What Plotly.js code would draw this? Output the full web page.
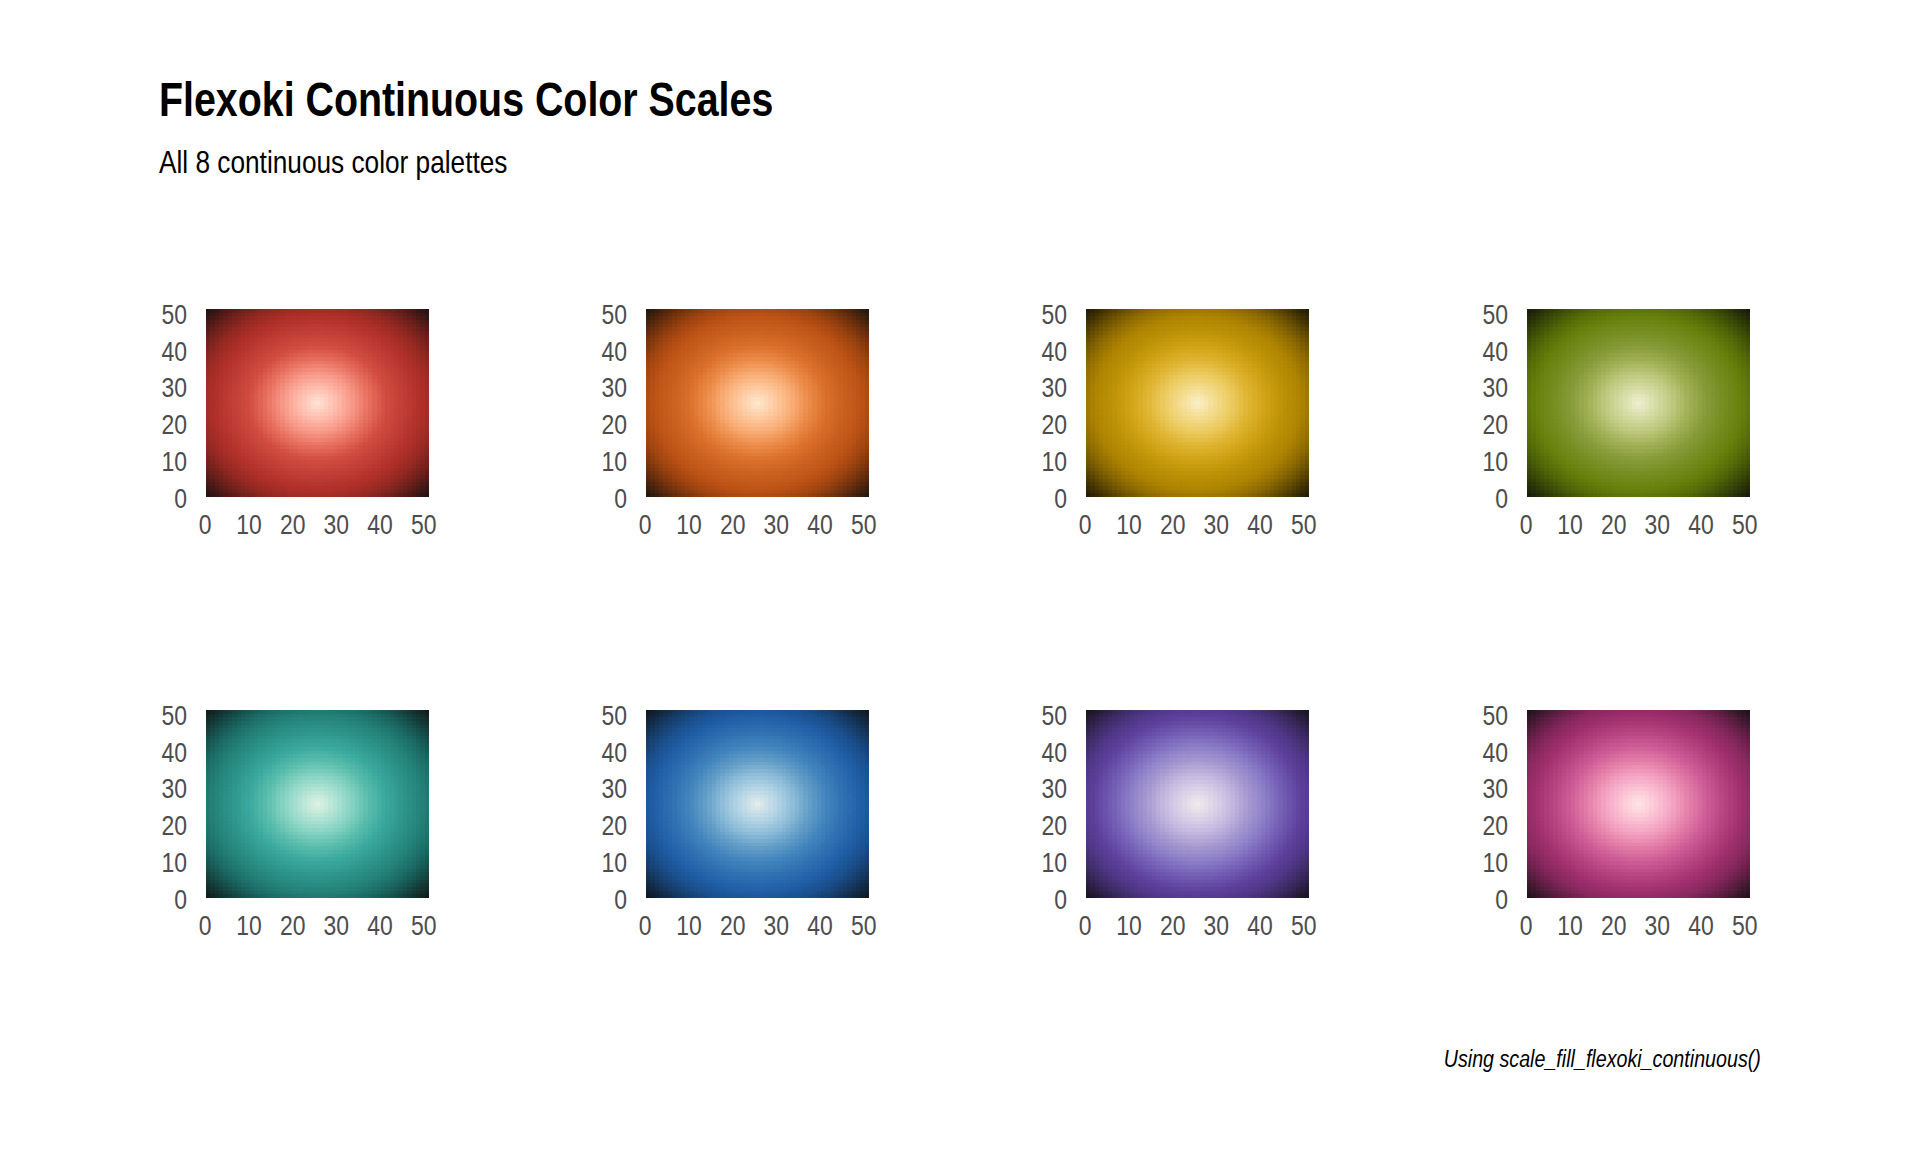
<!DOCTYPE html>
<html>
<head>
<meta charset="utf-8">
<script src="https://cdn.plot.ly/plotly-3.0.1.min.js"></script>
<style>
  html, body { margin: 0; padding: 0; background: #ffffff; }
  #chart { width: 1920px; height: 1152px; }
</style>
</head>
<body>
<div id="chart"></div>
<script>
// ---------------- data ----------------
const xValues = [0,1,2,3,4,5,6,7,8,9,10,11,12,13,14,15,16,17,18,19,20,21,22,23,24,25,26,27,28,29,30,31,32,33,34,35,36,37,38,39,40,41,42,43,44,45,46,47,48,49,50];
const yValues = [0,1,2,3,4,5,6,7,8,9,10,11,12,13,14,15,16,17,18,19,20,21,22,23,24,25,26,27,28,29,30,31,32,33,34,35,36,37,38,39,40,41,42,43,44,45,46,47,48,49,50];
const tickValues = [0, 10, 20, 30, 40, 50];
const centreIndex = 25;

// fill value (distance from grid centre, x10) for one quadrant:
// row = |y - 25|, column = |x - 25|; the other three quadrants mirror it
const distQuadrant = [
  [0,10,20,30,40,50,60,70,80,90,100,110,120,130,140,150,160,170,180,190,200,210,220,230,240,250],
  [10,14,22,32,41,51,61,71,81,91,100,110,120,130,140,150,160,170,180,190,200,210,220,230,240,250],
  [20,22,28,36,45,54,63,73,82,92,102,112,122,132,141,151,161,171,181,191,201,211,221,231,241,251],
  [30,32,36,42,50,58,67,76,85,95,104,114,124,133,143,153,163,173,182,192,202,212,222,232,242,252],
  [40,41,45,50,57,64,72,81,89,98,108,117,126,136,146,155,165,175,184,194,204,214,224,233,243,253],
  [50,51,54,58,64,71,78,86,94,103,112,121,130,139,149,158,168,177,187,196,206,216,226,235,245,255],
  [60,61,63,67,72,78,85,92,100,108,117,125,134,143,152,162,171,180,190,199,209,218,228,238,247,257],
  [70,71,73,76,81,86,92,99,106,114,122,130,139,148,157,166,175,184,193,202,212,221,231,240,250,260],
  [80,81,82,85,89,94,100,106,113,120,128,136,144,153,161,170,179,188,197,206,215,225,234,244,253,262],
  [90,91,92,95,98,103,108,114,120,127,135,142,150,158,166,175,184,192,201,210,219,228,238,247,256,266],
  [100,100,102,104,108,112,117,122,128,135,141,149,156,164,172,180,189,197,206,215,224,233,242,251,260,269],
  [110,110,112,114,117,121,125,130,136,142,149,156,163,170,178,186,194,202,211,220,228,237,246,255,264,273],
  [120,120,122,124,126,130,134,139,144,150,156,163,170,177,184,192,200,208,216,225,233,242,251,259,268,277],
  [130,130,132,133,136,139,143,148,153,158,164,170,177,184,191,198,206,214,222,230,239,247,256,264,273,282],
  [140,140,141,143,146,149,152,157,161,166,172,178,184,191,198,205,213,220,228,236,244,252,261,269,278,287],
  [150,150,151,153,155,158,162,166,170,175,180,186,192,198,205,212,219,227,234,242,250,258,266,275,283,292],
  [160,160,161,163,165,168,171,175,179,184,189,194,200,206,213,219,226,233,241,248,256,264,272,280,288,297],
  [170,170,171,173,175,177,180,184,188,192,197,202,208,214,220,227,233,240,248,255,262,270,278,286,294,302],
  [180,180,181,182,184,187,190,193,197,201,206,211,216,222,228,234,241,248,255,262,269,277,284,292,300,308],
  [190,190,191,192,194,196,199,202,206,210,215,220,225,230,236,242,248,255,262,269,276,283,291,298,306,314],
  [200,200,201,202,204,206,209,212,215,219,224,228,233,239,244,250,256,262,269,276,283,290,297,305,312,320],
  [210,210,211,212,214,216,218,221,225,228,233,237,242,247,252,258,264,270,277,283,290,297,304,311,319,326],
  [220,220,221,222,224,226,228,231,234,238,242,246,251,256,261,266,272,278,284,291,297,304,311,318,326,333],
  [230,230,231,232,233,235,238,240,244,247,251,255,259,264,269,275,280,286,292,298,305,311,318,325,332,340],
  [240,240,241,242,243,245,247,250,253,256,260,264,268,273,278,283,288,294,300,306,312,319,326,332,339,347],
  [250,250,251,252,253,255,257,260,262,266,269,273,277,282,287,292,297,302,308,314,320,326,333,340,347,354]
];

// Flexoki shades used by each continuous palette (light -> dark)
const shadeLevels = [50, 100, 150, 200, 300, 400, 500, 600, 700, 800, 850, 900, 950];
const shadeStops  = [0, 0.08, 0.15, 0.22, 0.33, 0.44, 0.55, 0.67, 0.77, 0.86, 0.905, 0.95, 1];
const paletteNames = ["red", "orange", "yellow", "green", "cyan", "blue", "purple", "magenta"];
const redShades     = ["#FFE1D5","#FFCABB","#FDB2A2","#F89A8A","#E8705F","#D14D41","#C03E35","#AF3029","#942822","#6C201C","#551B18","#3E1715","#261312"];
const orangeShades  = ["#FFE7CE","#FED3AF","#FCC192","#F9AE77","#EC8B49","#DA702C","#CB6120","#BC5215","#9D4310","#71320D","#59290D","#40200D","#27180E"];
const yellowShades  = ["#FAEEC6","#F6E2A0","#F1D67E","#ECCB60","#DFB431","#D0A215","#BE9207","#AD8301","#8E6B01","#664D01","#503D02","#3A2D04","#241E08"];
const greenShades   = ["#EDEECF","#DDE2B2","#CDD597","#BEC97E","#A0AF54","#879A39","#768D21","#66800B","#536907","#3D4C07","#313D07","#252D09","#1A1E0C"];
const cyanShades    = ["#DDF1E4","#BFE8D9","#A2DECE","#87D3C3","#5ABDAC","#3AA99F","#2F968D","#24837B","#1C6C66","#164F4A","#143F3C","#122F2C","#101F1D"];
const blueShades    = ["#E1ECEB","#C6DDE8","#ABCFE2","#92BFDB","#66A0C8","#4385BE","#3171B2","#205EA6","#1A4F8C","#163B66","#133051","#12253B","#101A24"];
const purpleShades  = ["#F0EAEC","#E2D9E9","#D3CAE6","#C4B9E0","#A699D0","#8B7EC8","#735EB5","#5E409D","#4F3685","#3C2A62","#31234E","#261C39","#1A1623"];
const magentaShades = ["#FEE4E5","#FCCFDA","#F9B9CF","#F4A4C2","#E47FA8","#CE5D97","#B74583","#A02F6F","#87285E","#641F46","#4F1B39","#39172B","#24131D"];
const paletteShades = [redShades, orangeShades, yellowShades, greenShades, cyanShades, blueShades, purpleShades, magentaShades];

// ---------------- build ----------------
const zGrid = yValues.map(y => xValues.map(x =>
  distQuadrant[Math.abs(y - centreIndex)][Math.abs(x - centreIndex)]));

function colorscaleFor(shades) {
  return shadeStops.map((s, i) => [s, shades[i]]);
}

const W = 1920, H = 1152;
const panelLeft = [206, 646, 1086, 1527];
const panelTop = [309, 710];
const panelW = 223, panelH = 188;

const FONT = '"Liberation Sans Narrow", "Arial Narrow", "Liberation Sans", Arial, sans-serif';
const tickFont = { family: FONT, size: 28, color: '#4D4D4D' };

const traces = [];
const layout = {
  width: W, height: H,
  margin: { l: 0, r: 0, t: 0, b: 0 },
  paper_bgcolor: '#ffffff',
  plot_bgcolor: '#ffffff',
  showlegend: false,
  font: { family: FONT },
  title: {
    text: 'Flexoki Continuous Color Scales',
    font: { family: FONT, size: 48, color: '#000000', weight: 700 },
    xref: 'container', yref: 'container',
    x: 159 / W, xanchor: 'left',
    y: 1 - 82 / H, yanchor: 'top'
  },
  annotations: [
    {
      text: 'All 8 continuous color palettes',
      xref: 'paper', yref: 'paper',
      x: 157 / W, xanchor: 'left', align: 'left',
      y: 1 - 162 / H, yanchor: 'middle',
      showarrow: false,
      font: { family: FONT, size: 32, color: '#000000' }
    },
    {
      text: 'Using scale_fill_flexoki_continuous()',
      xref: 'paper', yref: 'paper',
      x: 1763 / W, xanchor: 'right', align: 'right',
      y: 1 - 1058 / H, yanchor: 'middle',
      showarrow: false,
      font: { family: FONT, size: 24, color: '#000000', style: 'italic' }
    }
  ]
};

paletteNames.forEach((name, k) => {
  const col = k % 4, row = Math.floor(k / 4);
  const sfx = k === 0 ? '' : String(k + 1);
  traces.push({
    type: 'heatmap',
    name: name,
    x: xValues, y: yValues, z: zGrid,
    colorscale: colorscaleFor(paletteShades[k]),
    showscale: false,
    zsmooth: false,
    xaxis: 'x' + sfx, yaxis: 'y' + sfx,
    hovertemplate: name + '<br>x=%{x}, y=%{y}<br>value=%{z}<extra></extra>'
  });
  const x0 = panelLeft[col] / W, x1 = (panelLeft[col] + panelW) / W;
  const y1 = 1 - panelTop[row] / H, y0 = 1 - (panelTop[row] + panelH) / H;
  layout['xaxis' + sfx] = {
    domain: [x0, x1], anchor: 'y' + sfx,
    range: [-0.5, 50.5], tickvals: tickValues,
    showgrid: false, zeroline: false, showline: false, ticks: '',
    tickfont: tickFont, ticklabelstandoff: 8, ticklabelshift: -3
  };
  layout['yaxis' + sfx] = {
    domain: [y0, y1], anchor: 'x' + sfx,
    range: [-0.5, 50.5], tickvals: tickValues,
    showgrid: false, zeroline: false, showline: false, ticks: '',
    tickfont: tickFont, ticklabelstandoff: 18, ticklabelshift: 3
  };
});

// The reference uses a condensed (Arial Narrow-like) face; if no narrow face is
// installed, compress the real text horizontally around its anchor point.
function narrowFaceAvailable() {
  const c = document.createElement('canvas').getContext('2d');
  c.font = '48px "Liberation Sans"';
  const wide = c.measureText('Flexoki Continuous Color Scales').width;
  c.font = '48px "Liberation Sans Narrow", "Arial Narrow", "Liberation Sans"';
  const narrow = c.measureText('Flexoki Continuous Color Scales').width;
  return narrow < wide * 0.92;
}

function narrowTexts(gd, factor) {
  gd.querySelectorAll('svg text').forEach(t => {
    if (t.getAttribute('data-narrowed')) return;
    let bb;
    try { bb = t.getBBox(); } catch (e) { return; }
    if (!bb || bb.width === 0) return;
    const anchor = t.getAttribute('text-anchor') || 'start';
    let ax = bb.x;
    if (anchor === 'middle') ax = bb.x + bb.width / 2;
    else if (anchor === 'end') ax = bb.x + bb.width;
    const prev = t.getAttribute('transform') || '';
    t.setAttribute('transform',
      (prev + ' translate(' + ax + ',0) scale(' + factor + ',1) translate(' + (-ax) + ',0)').trim());
    t.setAttribute('data-narrowed', '1');
  });
}

const gd = document.getElementById('chart');
Plotly.newPlot(gd, traces, layout, { displayModeBar: false }).then(() => {
  if (!narrowFaceAvailable()) narrowTexts(gd, 0.82);
});
</script>
</body>
</html>
